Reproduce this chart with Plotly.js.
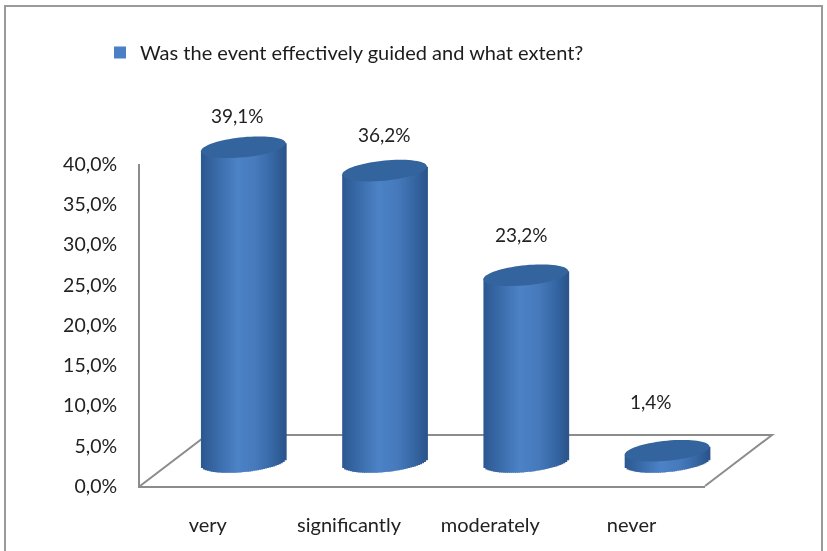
<!DOCTYPE html>
<html><head><meta charset="utf-8">
<script src="https://cdn.plot.ly/plotly-3.0.1.min.js"></script>
<style>html,body{margin:0;padding:0;background:#fff;overflow:hidden}#chart{filter:blur(0.45px)}</style></head>
<body><div id="chart" style="width:827px;height:551px"></div>
<script>
const categories = ['very', 'significantly', 'moderately', 'never'];
const values = [39.1, 36.2, 23.2, 1.4];
const seriesName = 'Was the event effectively guided and what extent?';
const valueLabels = ['39,1%', '36,2%', '23,2%', '1,4%'];
const labelNudgeX = [-6, 0, -4, -16];
const labelNudgeY = [32, 36, 41, 49];

const W = 827, H = 551;
const fx = p => p / W, fy = p => 1 - p / H;
const halfW = 0.30, tilt = 0.5, depth = 1.25, SL = 43;
const shade = [[-1,[44,88,145]],[-0.6,[58,108,170]],[-0.15,[76,130,198]],[0.3,[70,122,188]],[0.75,[52,100,160]],[1,[42,84,138]]];
function colorAt(t){
  for(let i=1;i<shade.length;i++){
    if(t<=shade[i][0]){
      const a=shade[i-1],b=shade[i],f=(t-a[0])/(b[0]-a[0]);
      return 'rgb('+a[1].map((c,k)=>Math.round(c+(b[1][k]-c)*f)).join(',')+')';
    }
  }
  return 'rgb(42,84,138)';
}
const traces = [];
const step = 2*halfW/SL;
for(let i=0;i<SL;i++){
  const t = -1+(i+0.5)*2/SL;
  const low = tilt*t-depth*Math.sqrt(1-t*t);
  traces.push({
    type:'bar', xaxis:'x2', yaxis:'y2', x:categories.map((c,k)=>k),
    y:values.map(v=>v+tilt*t-low), base:values.map(()=>low),
    width:step*1.5, offset:halfW*t-step/2,
    marker:{color:colorAt(t),line:{width:0}},
    name:seriesName, showlegend:i===20, hoverinfo:'skip'
  });
}
// invisible trace keeps the front axes (category labels, percentage scale) in the layout
traces.push({type:'scatter',mode:'markers',x:categories,y:values,xaxis:'x',yaxis:'y',
  marker:{opacity:0,size:1},showlegend:false,hoverinfo:'skip'});

const gray='#8c8c8c';
const shapes=[
  {type:'rect',xref:'paper',yref:'paper',x0:fx(5),x1:fx(822),y0:-0.05,y1:fy(6),line:{color:'#9a9a9a',width:2},layer:'below'},
  {type:'path',xref:'paper',yref:'paper',
    path:`M${fx(140)},${fy(486)}L${fx(207)},${fy(435)}L${fx(772)},${fy(435)}L${fx(705)},${fy(486)}`,
    line:{color:gray,width:2},layer:'below'}
];
values.forEach((v,k)=>{
  let p='';
  for(let j=0;j<=72;j++){
    const th=j/72*2*Math.PI, c=Math.cos(th), s=Math.sin(th);
    p+=(j?'L':'M')+(k+halfW*c)+','+(v+tilt*c+depth*s);
  }
  shapes.push({type:'path',xref:'x2',yref:'y2',path:p+'Z',fillcolor:'#33649d',line:{width:0},layer:'above'});
});
const annotations=values.map((v,k)=>({
  xref:'x2',yref:'y2',x:k+labelNudgeX[k]/141.25,y:v,yshift:labelNudgeY[k],text:valueLabels[k],
  showarrow:false,font:{family:'Lato',size:19,color:'#222'}
}));
const layout={
  width:W,height:H,margin:{l:0,r:0,t:0,b:0},paper_bgcolor:'#fff',plot_bgcolor:'rgba(0,0,0,0)',
  barmode:'overlay',shapes,annotations,
  showlegend:true,
  legend:{x:fx(100),y:fy(33),xanchor:'left',yanchor:'top',bgcolor:'rgba(0,0,0,0)',font:{family:'Lato',size:20,color:'#1c1c1c'}},
  xaxis:{domain:[fx(140),fx(705)],range:[-0.48,3.52],type:'category',categoryorder:'array',categoryarray:categories,
    showgrid:false,zeroline:false,showline:true,linecolor:gray,linewidth:2,ticks:'',ticklabelstandoff:20,tickfont:{family:'Lato',size:20,color:'#222'},anchor:'y',fixedrange:true},
  yaxis:{domain:[fy(486),fy(164)],range:[0,40],dtick:5,tickformat:'.1f',ticksuffix:'%',
    showgrid:false,zeroline:false,showline:true,linecolor:gray,linewidth:2,ticks:'',ticklabelstandoff:17,
    tickfont:{family:'Lato',size:19.5,color:'#222'},anchor:'x',fixedrange:true},
  xaxis2:{domain:[fx(175.5),fx(740.5)],range:[-0.48,3.52],visible:false,anchor:'y2',fixedrange:true},
  yaxis2:{domain:[fy(462+32.2),fy(140-32.2)],range:[-4,44],visible:false,anchor:'x2',fixedrange:true},
  separators:', '
};
Plotly.newPlot('chart',traces,layout,{displayModeBar:false,staticPlot:true});
</script></body></html>
